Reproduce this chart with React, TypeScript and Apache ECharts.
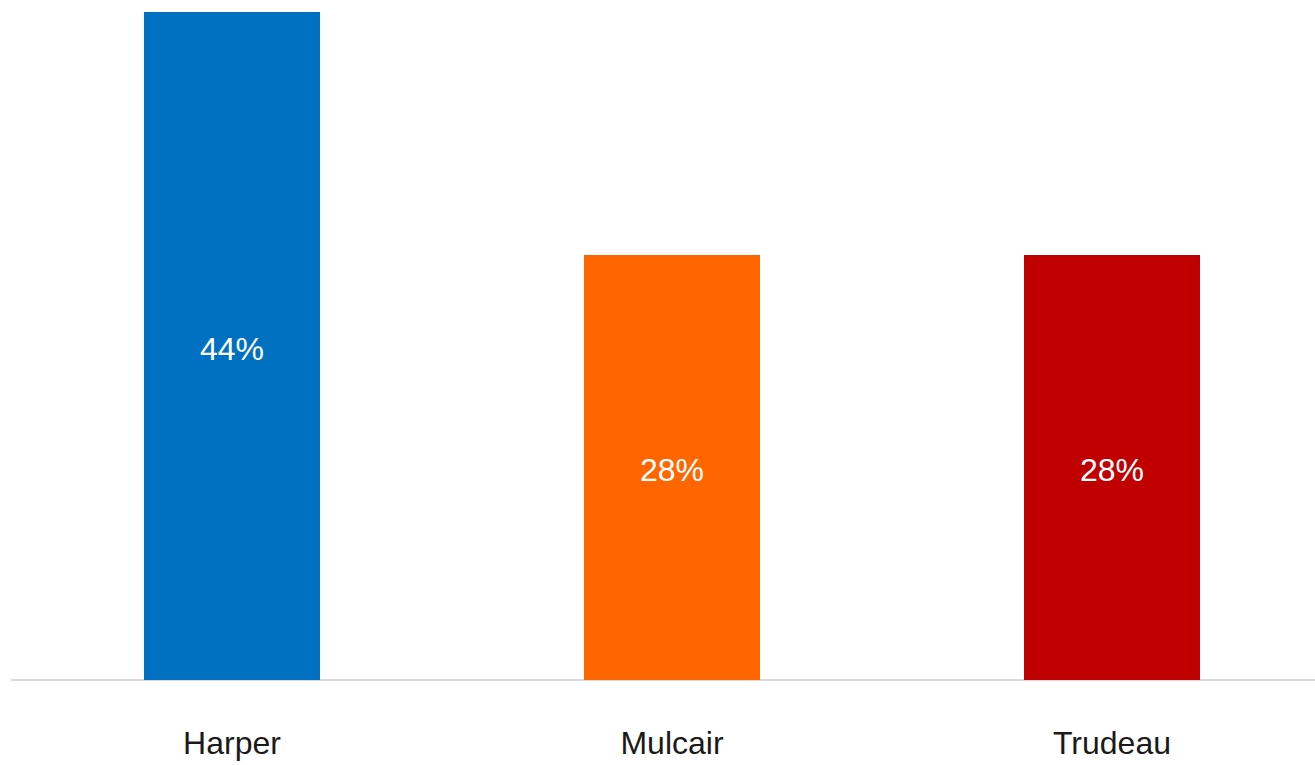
import React, { useEffect, useRef } from "react";
import * as echarts from "echarts";

const categories = ["Harper", "Mulcair", "Trudeau"];
const values = [44, 28, 28];
const colors = ["#0070C0", "#FF6600", "#C00000"];

export default function App() {
  const ref = useRef<HTMLDivElement>(null);
  useEffect(() => {
    const chart = echarts.init(ref.current!, undefined, { renderer: "svg" });
    chart.setOption({
      animation: false,
      grid: { left: 12, top: 12, width: 1320, height: 668, containLabel: false },
      xAxis: {
        type: "category",
        data: categories,
        axisLine: { show: true, lineStyle: { color: "#d9d9d9", width: 2 } },
        axisTick: { show: false },
        axisLabel: {
          color: "#1a1a1a",
          fontSize: 32,
          fontFamily: "Liberation Sans, Arial, sans-serif",
          margin: 47,
        },
      },
      yAxis: {
        type: "value",
        min: 0,
        max: 44,
        show: false,
        splitLine: { show: false },
      },
      series: [
        {
          type: "bar",
          barWidth: 176,
          data: values.map((v, i) => ({ value: v, itemStyle: { color: colors[i] } })),
          label: {
            show: true,
            position: "inside",
            offset: [0, 3],
            color: "#ffffff",
            fontSize: 32,
            fontFamily: "Liberation Sans, Arial, sans-serif",
            formatter: "{c}%",
          },
        },
      ],
    });
    return () => chart.dispose();
  }, []);
  return (
    <div
      ref={ref}
      style={{ position: "fixed", left: 0, top: 0, width: 1340, height: 765, background: "#fff" }}
    />
  );
}
